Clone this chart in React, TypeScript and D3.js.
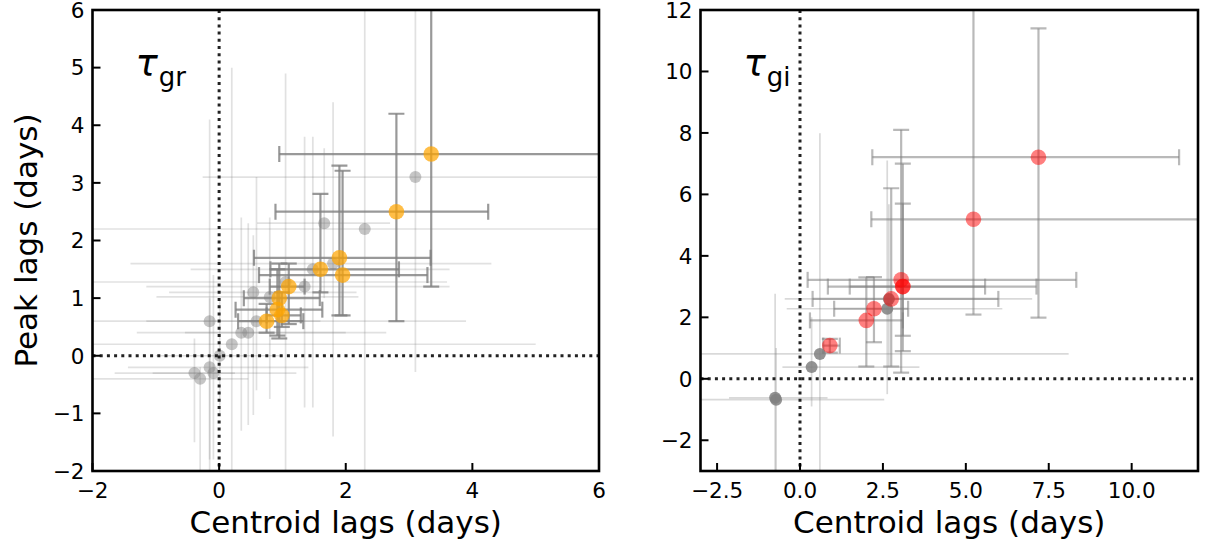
import React from 'react';
import * as d3 from 'd3';

// Each row: [centroid lag, peak lag, centroid low, centroid high, peak low, peak high] (days)
type Row = [number, number, number, number, number, number];

const grSelected: Row[] = [
  [3.35, 3.5, 0.95, 6.5, 1.2, 6.5],
  [2.8, 2.5, 0.89, 4.25, 0.6, 4.2],
  [1.9, 1.7, 0.55, 3.34, 0.7, 3.3],
  [1.6, 1.5, 0.81, 2.84, 1.1, 2.81],
  [1.95, 1.4, 0.63, 3.29, 0.7, 3.21],
  [1.1, 1.2, 0.8, 1.35, 0.55, 1.6],
  [0.95, 1.0, 0.39, 1.59, 0.3, 1.6],
  [0.92, 0.8, 0.26, 1.63, 0.35, 1.5],
  [0.99, 0.7, 0.75, 1.29, 0.5, 1.1],
  [0.75, 0.6, 0.3, 1.33, 0.4, 0.9],
];

const grOthers: Row[] = [
  [3.1, 3.1, -0.26, 5.97, -0.28, 6.5],
  [2.3, 2.2, -2.5, 6.5, -2.5, 6.5],
  [1.66, 2.3, 0.6, 2.7, 1.0, 3.6],
  [1.8, 1.6, -1.4, 4.3, -1.4, 4.4],
  [1.48, 1.5, -0.45, 3.64, -0.9, 3.8],
  [1.35, 1.2, -1.15, 3.64, -0.9, 3.8],
  [1.05, 1.28, -2.5, 3.6, -2.5, 4.9],
  [0.54, 1.1, -0.79, 2.17, -1.03, 2.09],
  [0.8, 1.02, -0.99, 2.2, -0.75, 2.4],
  [0.59, 0.6, -1.15, 3.9, -0.6, 3.1],
  [-0.15, 0.6, -2.5, 1.6, -1.8, 4.1],
  [0.35, 0.4, -1.3, 2.64, -1.3, 2.4],
  [0.46, 0.4, -0.54, 2.0, -1.2, 2.3],
  [0.2, 0.2, -1.99, 5.0, -2.5, 5.0],
  [0.01, 0.0, -1.0, 1.0, -1.0, 1.0],
  [-0.15, -0.2, -1.44, 1.41, -2.5, 1.0],
  [-0.39, -0.3, -1.65, 0.25, -1.5, 0.3],
  [-0.3, -0.4, -2.5, 0.46, -2.5, -0.2],
  [-0.09, -0.3, -1.05, 1.22, -1.8, 1.4],
];

const giSelected: Row[] = [
  [7.19, 7.21, 2.18, 11.43, 1.99, 11.4],
  [5.23, 5.19, 2.15, 12.5, 2.09, 12.5],
  [3.05, 3.22, 0.23, 8.33, 0.2, 8.1],
  [3.1, 3.0, 0.84, 7.13, 0.9, 7.0],
  [3.1, 3.0, 1.5, 5.58, 1.4, 5.7],
  [2.75, 2.6, 0.38, 5.98, 0.4, 6.2],
  [2.23, 2.28, 1.03, 3.26, 1.19, 3.31],
  [2.0, 1.9, 0.3, 3.1, 0.4, 3.3],
  [0.9, 1.08, 0.7, 1.2, 0.85, 1.3],
];

const giOthers: Row[] = [
  [-0.75, -0.62, -2.14, 0.83, -3.5, 2.77],
  [-0.72, -0.68, -3.5, 2.54, -3.5, 1.0],
  [0.35, 0.38, -0.53, 3.6, -0.9, 2.0],
  [0.6, 0.81, -3.5, 8.1, -3.5, 7.99],
  [2.63, 2.28, -0.4, 6.1, -0.5, 7.1],
  [2.68, 2.6, -0.46, 7.0, 0.38, 5.68],
];

const grXTicks = [-2, 0, 2, 4, 6];
const grYTicks = [-2, -1, 0, 1, 2, 3, 4, 5, 6];
const giXTicks = [-2.5, 0, 2.5, 5, 7.5, 10];
const giYTicks = [-2, 0, 2, 4, 6, 8, 10, 12];

const FONT = "'DejaVu Sans', sans-serif";
const minus = (s: string) => s.replace('-', '\u2212');

interface PanelProps {
  id: string;
  left: number;
  right: number;
  top: number;
  bottom: number;
  xDomain: [number, number];
  yDomain: [number, number];
  xTicks: number[];
  yTicks: number[];
  xFmt: (v: number) => string;
  yFmt: (v: number) => string;
  selected: Row[];
  others: Row[];
  color: string;
  colorOpacity: number;
  otherColorOpacity: number;
  lightOpacity: number;
  darkOpacity: number;
  sub: string;
  yLabel?: string;
}

function Panel(p: PanelProps) {
  const x = d3.scaleLinear().domain(p.xDomain).range([p.left, p.right]);
  const y = d3.scaleLinear().domain(p.yDomain).range([p.bottom, p.top]);
  const cap = 8;
  const clip = `clip-${p.id}`;
  const midX = (p.left + p.right) / 2;
  const midY = (p.top + p.bottom) / 2;

  const bars = (rows: Row[], stroke: string, op: number, sw: number, caps: boolean) =>
    rows.map((r, i) => {
      const cx = x(r[0]);
      const cy = y(r[1]);
      const x0 = x(r[2]);
      const x1 = x(r[3]);
      const y0 = y(r[4]);
      const y1 = y(r[5]);
      return (
        <g key={i} stroke={stroke} strokeOpacity={op} strokeWidth={sw} fill="none">
          <line x1={x0} x2={x1} y1={cy} y2={cy} />
          <line x1={cx} x2={cx} y1={y0} y2={y1} />
          {caps && (
            <>
              <line x1={x0} x2={x0} y1={cy - cap} y2={cy + cap} />
              <line x1={x1} x2={x1} y1={cy - cap} y2={cy + cap} />
              <line x1={cx - cap} x2={cx + cap} y1={y0} y2={y0} />
              <line x1={cx - cap} x2={cx + cap} y1={y1} y2={y1} />
            </>
          )}
        </g>
      );
    });

  return (
    <g>
      <defs>
        <clipPath id={clip}>
          <rect x={p.left} y={p.top} width={p.right - p.left} height={p.bottom - p.top} />
        </clipPath>
      </defs>
      <g clipPath={`url(#${clip})`}>
        {bars(p.others, '#808080', p.lightOpacity, 1.7, false)}
        {p.others.map((r, i) => (
          <circle key={i} cx={x(r[0])} cy={y(r[1])} r={6} fill="#808080" fillOpacity={p.otherColorOpacity} />
        ))}
        <line x1={x(0)} x2={x(0)} y1={p.top} y2={p.bottom} stroke="#222" strokeWidth={3} strokeDasharray="3 4.2" />
        <line x1={p.left} x2={p.right} y1={y(0)} y2={y(0)} stroke="#222" strokeWidth={3} strokeDasharray="3 4.2" />
        {bars(p.selected, '#808080', p.darkOpacity, 2.2, true)}
        {p.selected.map((r, i) => (
          <circle key={i} cx={x(r[0])} cy={y(r[1])} r={7.8} fill={p.color} fillOpacity={p.colorOpacity} />
        ))}
      </g>
      {p.xTicks.map((t) => (
        <g key={t}>
          <line x1={x(t)} x2={x(t)} y1={p.bottom} y2={p.bottom - 8} stroke="#000" strokeWidth={2} />
          <text x={x(t)} y={p.bottom + 27} textAnchor="middle" fontFamily={FONT} fontSize={21.5} fill="#000">
            {p.xFmt(t)}
          </text>
        </g>
      ))}
      {p.yTicks.map((t) => (
        <g key={t}>
          <line x1={p.left} x2={p.left + 8} y1={y(t)} y2={y(t)} stroke="#000" strokeWidth={2} />
          <text x={p.left - 8} y={y(t) + 7.8} textAnchor="end" fontFamily={FONT} fontSize={21.5} fill="#000">
            {p.yFmt(t)}
          </text>
        </g>
      ))}
      <rect x={p.left} y={p.top} width={p.right - p.left} height={p.bottom - p.top} fill="none" stroke="#000" strokeWidth={2.6} />
      <text x={p.left + 43} y={76} fontFamily={FONT} fill="#000">
        <tspan fontStyle="italic" fontSize={37}>τ</tspan>
        <tspan fontSize={26} dy={10} dx={1}>{p.sub}</tspan>
      </text>
      <text x={midX} y={p.bottom + 62} textAnchor="middle" fontFamily={FONT} fontSize={31} fill="#000">
        Centroid lags (days)
      </text>
      {p.yLabel && (
        <text transform={`translate(37,${midY}) rotate(-90)`} textAnchor="middle" fontFamily={FONT} fontSize={31} fill="#000">
          {p.yLabel}
        </text>
      )}
    </g>
  );
}

export default function App() {
  const intFmt = (v: number) => minus(d3.format('d')(v));
  const oneFmt = (v: number) => minus(d3.format('.1f')(v));
  return (
    <svg width={1218} height={547} style={{ position: 'absolute', left: 0, top: 0, background: '#fff' }}>
      <rect width={1218} height={547} fill="#fff" />
      <Panel
        id="gr"
        left={92.5}
        right={599}
        top={10}
        bottom={471}
        xDomain={[-2, 6]}
        yDomain={[-2, 6]}
        xTicks={grXTicks}
        yTicks={grYTicks}
        xFmt={intFmt}
        yFmt={intFmt}
        selected={grSelected}
        others={grOthers}
        color="#FFA500"
        colorOpacity={0.72}
        otherColorOpacity={0.45}
        lightOpacity={0.24}
        darkOpacity={0.8}
        sub="gr"
        yLabel="Peak lags (days)"
      />
      <Panel
        id="gi"
        left={700.5}
        right={1198}
        top={10}
        bottom={471}
        xDomain={[-3, 12]}
        yDomain={[-3, 12]}
        xTicks={giXTicks}
        yTicks={giYTicks}
        xFmt={oneFmt}
        yFmt={intFmt}
        selected={giSelected}
        others={giOthers}
        color="#FF0000"
        colorOpacity={0.5}
        otherColorOpacity={0.85}
        lightOpacity={0.3}
        darkOpacity={0.55}
        sub="gi"
      />
    </svg>
  );
}
